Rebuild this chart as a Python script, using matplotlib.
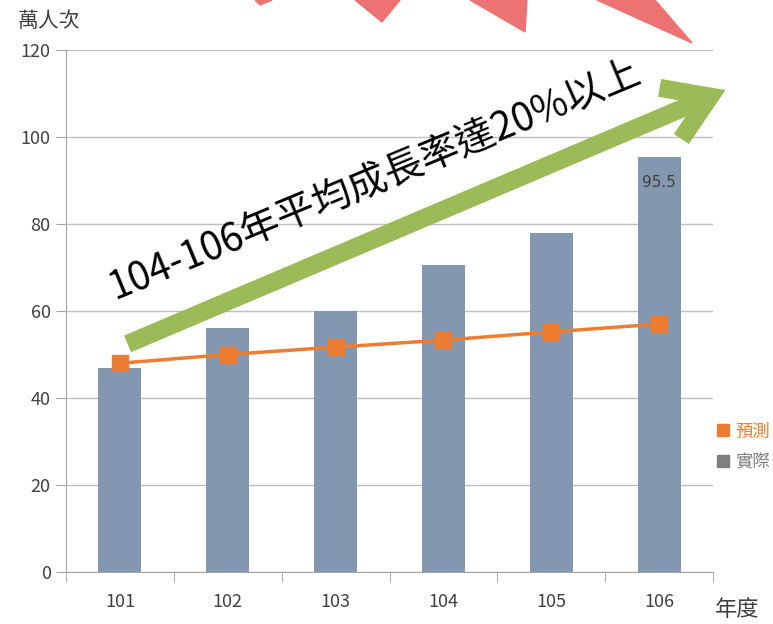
import matplotlib
matplotlib.use('Agg')
import matplotlib.pyplot as plt
from matplotlib.patches import Polygon, FancyArrowPatch, ArrowStyle
from matplotlib.lines import Line2D

plt.rcParams['font.family'] = ['Noto Sans CJK TC', 'DejaVu Sans']

years = ['101', '102', '103', '104', '105', '106']
actual = [47, 56, 60, 70.5, 78, 95.5]
forecast = [48, 50, 51.7, 53.3, 55.2, 57]
yticks = [0, 20, 40, 60, 80, 100, 120]

bar_color = '#8497B0'
line_color = '#ED7D31'
grid_color = '#BFBFBF'

fig = plt.figure(figsize=(7.73, 6.24), dpi=100)
ax = fig.add_axes([66/773, 1-572/624, (713-66)/773, (572-50)/624])

x = list(range(len(years)))
ax.bar(x, actual, width=0.4, color=bar_color, zorder=2)
ax.plot(x, forecast, color=line_color, lw=2.5, marker='s', markersize=11, zorder=3)

ax.text(5, 89.5, '95.5', ha='center', va='center', fontsize=11, color='#404040',
        family=['DejaVu Sans'], zorder=4)

ax.set_xlim(-0.5, 5.5)
ax.set_ylim(0, 120)
ax.set_yticks(yticks)
ax.set_yticklabels([str(v) for v in yticks], fontsize=13, color='#404040')
ax.set_xticks(x)
ax.set_xticklabels(years, fontsize=13, color='#404040')
ax.set_xticks([i - 0.5 for i in range(7)], minor=True)
ax.tick_params(axis='x', which='major', length=0, pad=15)
ax.tick_params(axis='x', which='minor', length=7, color='#A6A6A6')
ax.tick_params(axis='y', length=7, color='#A6A6A6', pad=4)
ax.yaxis.grid(True, color=grid_color, lw=1, zorder=0)
ax.set_axisbelow(True)
for s in ['top', 'right']:
    ax.spines[s].set_visible(False)
for s in ['left', 'bottom']:
    ax.spines[s].set_color('#A6A6A6')

fig.text(18/773, 1-21/624, '萬人次', fontsize=15, color='#404040', va='center')
fig.text(715/773, 1-609/624, '年度', fontsize=16, color='#404040', va='center')

handles = [Line2D([], [], marker='s', ls='', color=line_color, markersize=9),
           Line2D([], [], marker='s', ls='', color='#7F7F7F', markersize=9)]
fig.legend(handles, ['預測', '實際'], loc='center left',
           bbox_to_anchor=(718/773, 1-447/624), frameon=False, fontsize=12.5,
           handlelength=0.6, handletextpad=0.4, labelspacing=0.75,
           labelcolor=[line_color, '#7F7F7F'], borderaxespad=0, borderpad=0)

# red shapes at top
red = '#ED7272'
tris = [[(255, 0), (272, 0), (260, 5)],
        [(355, 0), (400, 0), (382, 22)],
        [(470, 0), (527, 0), (525, 32)],
        [(597, 0), (655, 0), (692, 43)]]
for t in tris:
    fig.add_artist(Polygon([(px / 773, 1 - py / 624) for px, py in t],
                           closed=True, color=red, transform=fig.transFigure))

# green arrow
arr = FancyArrowPatch((125/773, 1-345/624), (728/773, 1-89/624),
                      transform=fig.transFigure,
                      arrowstyle=ArrowStyle('->', head_length=0.62, head_width=0.4),
                      mutation_scale=50, color='#9BBB59', lw=13,
                      capstyle='butt', joinstyle='miter')
fig.add_artist(arr)

fig.text(375/773, 1-180/624, '104-106年平均成長率達20%以上', rotation=22.5,
         rotation_mode='anchor', ha='center', va='center', fontsize=28, color='black')

fig.savefig('out.png', dpi=100)
